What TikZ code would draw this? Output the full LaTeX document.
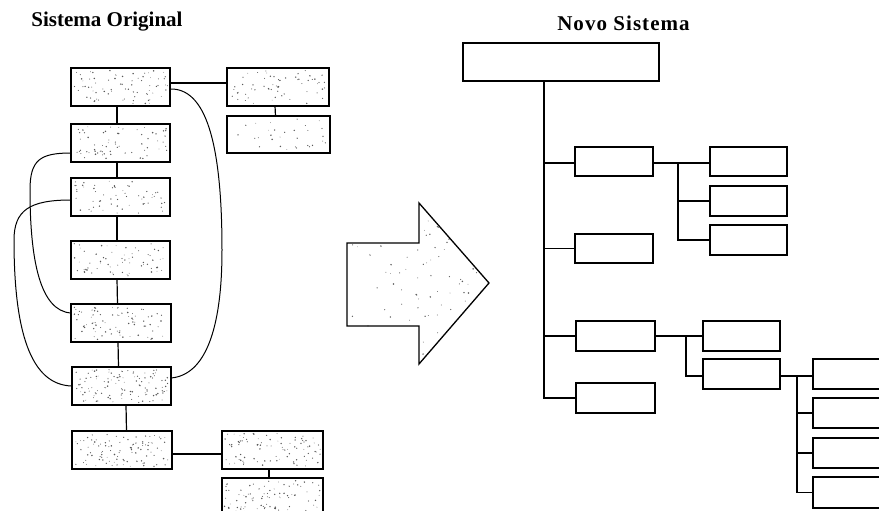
\documentclass[tikz,border=0pt]{standalone}
\usepackage{fontspec}
\setmainfont{Liberation Serif}
\usetikzlibrary{calc}

% scatter of small grey dots inside a rectangle given by centre and size
\newcommand{\speckle}[5]{%
  \foreach \i in {1,...,#5}{%
    \fill[dotc] ({#1+(rnd-0.5)*(#3-5)},{#2+(rnd-0.5)*(#4-5)}) circle ({0.35+0.5*rnd});
  }%
}

\begin{document}
\begin{tikzpicture}[x=1pt,y=-1pt,
  line width=1.1pt,
  dotc/.style={fill=black!65},
  obox/.style={draw, line width=1.4pt, inner sep=0pt, outer sep=0pt,
               minimum width=99pt, minimum height=38pt},
  nbox/.style={draw, line width=1.4pt, inner sep=0pt, outer sep=0pt, fill=white,
               minimum width=78pt, minimum height=30pt},
  link/.style={line width=1.2pt},
  loop/.style={line width=1pt},
  title/.style={font=\bfseries\fontsize{21}{25}\selectfont, inner sep=0pt}]

\useasboundingbox (0,0) rectangle (879,511);
\clip (0,0) rectangle (879,511);
\pgfmathsetseed{4711}

% ---------- titles ----------
\node[title] (t1) at (107,22) {Sistema Original};
\node[title, font=\bfseries\fontsize{21}{25}\selectfont\addfontfeature{LetterSpace=5}] (t2) at (623.5,23) {Novo Sistema};

% ---------- original system: stippled boxes ----------
\speckle{120.5}{87}{99}{38}{75}
\speckle{120.5}{143}{99}{38}{65}
\speckle{120.5}{197}{99}{38}{60}
\speckle{120.5}{260}{99}{38}{65}
\speckle{121}{323}{100}{38}{80}
\speckle{121.5}{386}{99}{38}{115}
\speckle{122}{450}{100}{38}{100}
\speckle{272.5}{450}{101}{38}{90}
\speckle{272.5}{497}{101}{38}{85}
\speckle{278}{87}{102}{38}{60}
\speckle{278.5}{134.5}{103}{37}{30}

\node[obox] (o1) at (120.5,87) {};
\node[obox] (o2) at (120.5,143) {};
\node[obox] (o3) at (120.5,197) {};
\node[obox] (o4) at (120.5,260) {};
\node[obox, minimum width=100pt] (o5) at (121,323) {};
\node[obox] (o6) at (121.5,386) {};
\node[obox, minimum width=100pt] (o7) at (122,450) {};
\node[obox, minimum width=101pt] (o8) at (272.5,450) {};
\node[obox, minimum width=101pt] (o9) at (272.5,497) {};
\node[obox, minimum width=102pt] (r1) at (278,87) {};
\node[obox, minimum width=103pt, minimum height=37pt] (r2) at (278.5,134.5) {};

% straight links of the original chain
\draw[link] ([xshift=-3.5pt]o1.south) -- ([xshift=-3.5pt]o2.north);
\draw[link] ([xshift=-3.5pt]o2.south) -- ([xshift=-3.5pt]o3.north);
\draw[link] ([xshift=-3.5pt]o3.south) -- ([xshift=-3.5pt]o4.north);
\draw[link] ([xshift=-3.5pt]o4.south) -- ([xshift=-3.5pt]o5.north);
\draw[link] ([xshift=-3pt]o5.south) -- ([xshift=-3pt]o6.north);
\draw[link] ([xshift=4.5pt]o6.south) -- ([xshift=4.5pt]o7.north);
\draw[link] ([yshift=-4pt]o7.east) -- ([yshift=-4pt]o8.west);
\draw[link] ([xshift=-3.5pt]o8.south) -- ([xshift=-3.5pt]o9.north);
\draw[link] ([yshift=4pt]o1.east) -- ([yshift=4pt]r1.west);
\draw[link] ([xshift=-3pt]r1.south) -- ([xshift=-3pt]r2.north);

% curved cross links
\draw[loop] ([yshift=-2pt]o1.east) .. controls (205,88) and (222,140) .. (222,250)
            .. controls (222,330) and (205,375) .. ([yshift=8pt]o6.east);
\draw[loop] ([yshift=-10pt]o2.west) .. controls (40,153) and (30,160) .. (30,190)
            .. controls (30,260) and (40,311) .. ([yshift=10pt]o5.west);
\draw[loop] ([yshift=-3pt]o3.west) .. controls (30,200) and (14,210) .. (14,240)
            .. controls (14,330) and (30,385) .. (o6.west);

% ---------- big transition arrow ----------
\begin{scope}
  \clip (347,243) -- (419,243) -- (419,203) -- (489,283) -- (419,364) -- (419,326) -- (347,326) -- cycle;
  \speckle{418}{283}{142}{161}{120}
\end{scope}
\draw[line width=1.3pt, line join=miter]
  (347,243) -- (419,243) -- (419,203) -- (489,283) -- (419,364) -- (419,326) -- (347,326) -- cycle;

% ---------- new system: plain hierarchy ----------
\node[nbox, minimum width=196pt, minimum height=38pt] (top) at (561,62) {};
\node[nbox, minimum height=29pt] (A) at (614,161.5) {};
\node[nbox, minimum height=29pt] (B) at (614,248.5) {};
\node[nbox, minimum width=79pt] (C) at (615.5,336) {};
\node[nbox, minimum width=79pt] (D) at (615.5,398) {};
\node[nbox, minimum width=77pt, minimum height=29pt] (A1) at (748.5,161.5) {};
\node[nbox, minimum width=77pt] (A2) at (748.5,201) {};
\node[nbox, minimum width=77pt] (A3) at (748.5,240) {};
\node[nbox, minimum width=77pt] (C1) at (741.5,336) {};
\node[nbox, minimum width=77pt] (C2) at (741.5,374) {};
\node[nbox, minimum width=77pt] (E1) at (851.5,374) {};
\node[nbox, minimum width=77pt] (E2) at (851.5,413) {};
\node[nbox, minimum width=77pt] (E3) at (851.5,453) {};
\node[nbox, minimum width=77pt, minimum height=31pt] (E4) at (851.5,492.5) {};

\coordinate (tr) at (544,0);
\coordinate (ta) at (678,0);
\coordinate (tc) at (686,0);
\coordinate (te) at (797,0);

% main trunk and first level
\draw[link] ([xshift=-17pt]top.south) -- (D.west -| tr) -- (D.west);
\draw[link] ([yshift=-1.5pt]A.west -| tr) -- ([yshift=-1.5pt]A.west);
\draw[link] (B.west -| tr) -- (B.west);
\draw[link] (C.west -| tr) -- (C.west);

% children of A
\draw[link] ([yshift=-1.5pt]A.east) -- ([yshift=-1.5pt]A1.west);
\draw[link] ([yshift=-1.5pt]A.east -| ta) -- (A3.west -| ta) -- (A3.west);
\draw[link] (A2.west -| ta) -- (A2.west);

% children of C
\draw[link] (C.east) -- (C1.west);
\draw[link] (C.east -| tc) -- ([yshift=-2pt]C2.west -| tc) -- ([yshift=-2pt]C2.west);

% children of C2
\draw[link] ([yshift=-2pt]C2.east) -- ([yshift=-2pt]E1.west);
\draw[link] ([yshift=-2pt]C2.east -| te) -- (E4.west -| te) -- (E4.west);
\draw[link] (E2.west -| te) -- (E2.west);
\draw[link] (E3.west -| te) -- (E3.west);

\end{tikzpicture}
\end{document}
